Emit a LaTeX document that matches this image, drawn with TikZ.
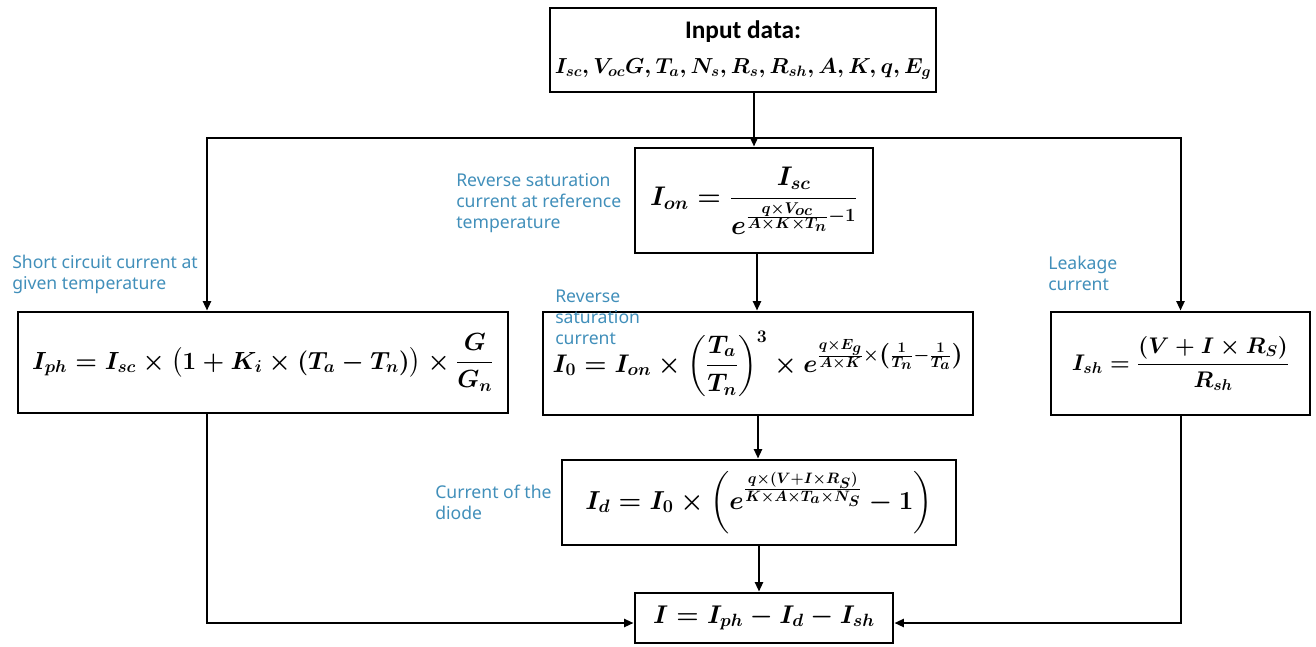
\documentclass[tikz,border=0pt]{standalone}
\usepackage{amsmath}
\usepackage{graphicx}
\usepackage[no-math]{fontspec}
\newfontfamily\lblfont{Noto Sans}
\newfontfamily\titlefont{Carlito}
\usetikzlibrary{arrows.meta}
\definecolor{lblblue}{RGB}{65,143,186}
\newcommand{\eqs}[2]{\scalebox{#1}{\fontsize{20.74}{25}\selectfont\boldmath #2}}
\tikzset{
 box/.style={draw, line width=2.2pt, inner sep=0pt, align=center},
 conn/.style={line width=1.5pt},
 arr/.style={conn, -{Triangle[length=7pt,width=6pt]}},
 lbl/.style={text=lblblue, font=\lblfont\fontsize{13.2}{15.75}\selectfont, align=left, anchor=north west, inner sep=0pt}
}
\begin{document}
\begin{tikzpicture}[x=0.75pt,y=-0.75pt]
\useasboundingbox (0,0) rectangle (1316,646);
% boxes
\node[box, font=\fontsize{19}{26}\selectfont, minimum width=386*0.75pt, minimum height=84*0.75pt] (input) at (743,50)
  {{\titlefont\bfseries Input data:}\\
   \scalebox{0.942}{\fontsize{17.28}{20}\selectfont\boldmath $I_{sc},V_{oc}G,T_a,N_s,R_s,R_{sh},A,K,q,E_g$}};
\node[box, minimum width=238*0.75pt, minimum height=105*0.75pt] (ion) at (754,200.5)
  {\eqs{0.974}{$I_{on}=\dfrac{I_{sc}}{e^{\frac{q\times V_{oc}}{A\times K\times T_n}-1}}$}};
\node[box, minimum width=430*0.75pt, minimum height=103*0.75pt] (izero) at (758,363.5)
  {\eqs{0.921}{$I_0=I_{on}\times\left(\dfrac{T_a}{T_n}\right)^{3}\times e^{\frac{q\times E_g}{A\times K}\times\left(\frac{1}{T_n}-\frac{1}{T_a}\right)}$}};
\node[box, minimum width=490*0.75pt, minimum height=101*0.75pt] (iph) at (263,362.5)
  {\eqs{0.897}{$I_{ph}=I_{sc}\times\bigl(1+K_i\times(T_a-T_n)\bigr)\times\dfrac{G}{G_n}$}};
\node[box, minimum width=259*0.75pt, minimum height=103*0.75pt] (ish) at (1180.5,363.5)
  {\eqs{0.818}{$I_{sh}=\dfrac{(V+I\times R_S)}{R_{sh}}$}};
\node[box, minimum width=394*0.75pt, minimum height=85*0.75pt] (id) at (759,502.5)
  {\eqs{0.94}{$I_d=I_0\times\left(e^{\frac{q\times(V+I\times R_S)}{K\times A\times T_a\times N_S}}-1\right)$}};
\node[box, minimum width=258*0.75pt, minimum height=50*0.75pt] (itot) at (764,618)
  {\eqs{0.926}{$I=I_{ph}-I_d-I_{sh}$}};
% labels
\node[lbl] (l1) at (456,173) {Reverse saturation\\current at reference\\temperature};
\node[lbl] (l2) at (12,255) {Short circuit current at\\given temperature};
\node[lbl] (l3) at (1048,256) {Leakage\\current};
\node[lbl] (l4) at (555,290) {Reverse\\saturation\\current};
\node[lbl] (l5) at (435,485) {Current of the\\diode};
% connectors
\coordinate (split) at (757,138);
\coordinate (lx) at (207,138);
\coordinate (bl) at (207,623);
\draw[arr] (ion.north |- input.south) -- (ion.north);
\draw[arr] (split) -| (iph.north -| lx);
\draw[arr] (split) -| (ish.north);
\draw[arr] (ion.south -| split) -- (izero.north -| split);
\draw[arr] (izero.south) -- (izero.south |- id.north);
\draw[arr] (id.south) -- (id.south |- itot.north);
\draw[arr] (iph.south -| lx) |- (itot.west |- bl);
\draw[arr] (ish.south) |- (itot.east |- bl);
\end{tikzpicture}
\end{document}
